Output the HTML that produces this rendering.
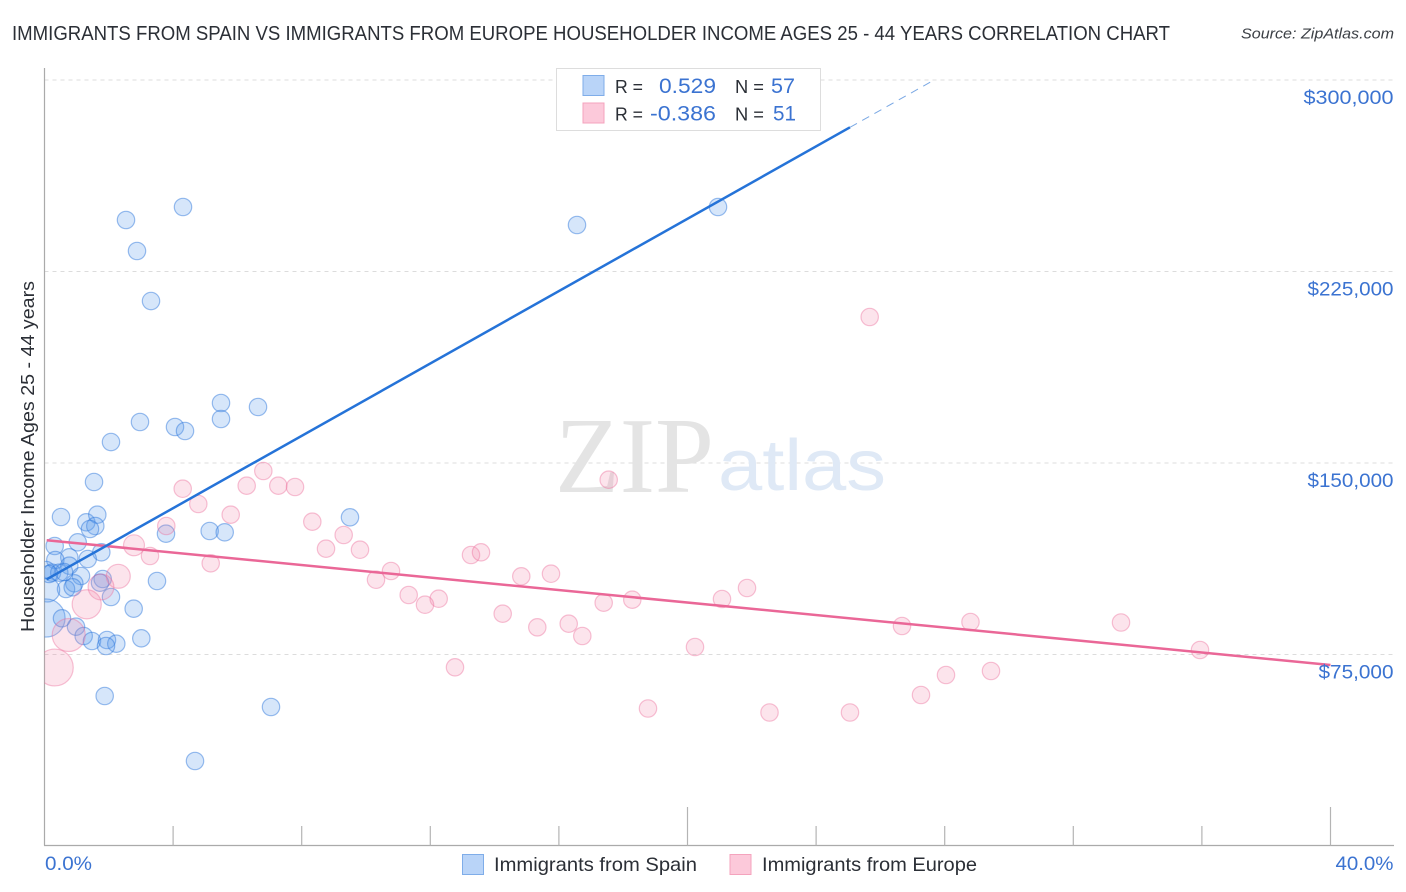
<!DOCTYPE html>
<html lang="en">
<head>
<meta charset="utf-8">
<title>Immigrants from Spain vs Immigrants from Europe Correlation Chart</title>
<style>
html,body{margin:0;padding:0;background:#fff;width:1406px;height:892px;overflow:hidden}
svg{display:block}
text{font-family:"Liberation Sans",Arial,sans-serif}
</style>
</head>
<body>
<svg id="chart" xmlns="http://www.w3.org/2000/svg" width="1406" height="892" viewBox="0 0 1406 892">
  <defs>
    <clipPath id="plot-clip"><rect x="44.5" y="60" width="1350" height="785"/></clipPath>
  </defs>
  <rect x="0" y="0" width="1406" height="892" fill="#ffffff"/>
  <text x="12" y="40" font-size="20" fill="#2b2f36" textLength="1158" lengthAdjust="spacingAndGlyphs">IMMIGRANTS FROM SPAIN VS IMMIGRANTS FROM EUROPE HOUSEHOLDER INCOME AGES 25 - 44 YEARS CORRELATION CHART</text>
  <text x="1394" y="38.5" font-size="15" font-style="italic" fill="#3c4046" text-anchor="end" textLength="153" lengthAdjust="spacingAndGlyphs">Source: ZipAtlas.com</text>

  <g id="grid"></g>

  <g>
    <text x="555" y="492" style="font-family:'Liberation Serif',serif" font-size="108" fill="#e4e4e4" textLength="159" lengthAdjust="spacingAndGlyphs">ZIP</text>
    <text x="718" y="490" font-size="72" fill="#dfe9f6" textLength="168" lengthAdjust="spacingAndGlyphs">atlas</text>
  </g>

  <g id="axes"></g>
  <g id="bubbles" clip-path="url(#plot-clip)"></g>
  <g id="trends"></g>
  <g id="ylabels"></g>
  <g id="xlabels"></g>

  <text transform="translate(34 456.5) rotate(-90)" font-size="18" fill="#2b2f36" text-anchor="middle" textLength="351" lengthAdjust="spacingAndGlyphs">Householder Income Ages 25 - 44 years</text>

  <g>
    <rect x="556.5" y="68.5" width="264" height="62" fill="#ffffff" stroke="#dddddd" stroke-width="1"/>
    <rect x="583" y="75.5" width="21" height="20" fill="#b9d4f8" stroke="#7fade9" stroke-width="1"/>
    <rect x="583" y="103" width="21" height="20" fill="#fcc9da" stroke="#f4a3bd" stroke-width="1"/>
    <text x="615" y="93" font-size="18.5" fill="#2b2f36" textLength="28" lengthAdjust="spacingAndGlyphs">R =</text>
    <text x="716" y="93" font-size="21" fill="#3b73d1" text-anchor="end" textLength="57" lengthAdjust="spacingAndGlyphs">0.529</text>
    <text x="735" y="93" font-size="18.5" fill="#2b2f36" textLength="29" lengthAdjust="spacingAndGlyphs">N =</text>
    <text x="795" y="93" font-size="21" fill="#3b73d1" text-anchor="end" textLength="24" lengthAdjust="spacingAndGlyphs">57</text>
    <text x="615" y="120.5" font-size="18.5" fill="#2b2f36" textLength="28" lengthAdjust="spacingAndGlyphs">R =</text>
    <text x="716" y="120.5" font-size="21" fill="#3b73d1" text-anchor="end" textLength="66" lengthAdjust="spacingAndGlyphs">-0.386</text>
    <text x="735" y="120.5" font-size="18.5" fill="#2b2f36" textLength="29" lengthAdjust="spacingAndGlyphs">N =</text>
    <text x="796" y="120.5" font-size="21" fill="#3b73d1" text-anchor="end" textLength="23" lengthAdjust="spacingAndGlyphs">51</text>
  </g>

  <g>
    <g>
      <rect x="462.5" y="854.5" width="21" height="20" fill="#b9d4f8" stroke="#7fade9" stroke-width="1"/>
      <text x="494" y="871" font-size="19.5" fill="#2b2f36" textLength="203" lengthAdjust="spacingAndGlyphs">Immigrants from Spain</text>
    </g>
    <g>
      <rect x="730" y="854.5" width="21" height="20" fill="#fcc9da" stroke="#f4a3bd" stroke-width="1"/>
      <text x="762" y="871" font-size="19.5" fill="#2b2f36" textLength="215" lengthAdjust="spacingAndGlyphs">Immigrants from Europe</text>
    </g>
  </g>
</svg>
<script>
// Chart data
const yTickValues = [75, 150, 225, 300];
const yTickLabels = ['$75,000', '$150,000', '$225,000', '$300,000'];
const xTickValues = [0, 4, 8, 12, 16, 20, 24, 28, 32, 36, 40];
const xAxisLabels = ['0.0%', '40.0%'];
const xAxisLabelValues = [0, 40];

const spainX = [2.535,4.308,2.877,3.313,16.563,20.949,5.490,5.490,6.641,2.970,4.059,4.370,2.068,1.540,9.502,0.513,1.300,1.642,1.580,1.415,3.779,5.138,5.605,1.033,0.317,1.767,0.771,1.344,0.336,0.771,0.047,0.233,0.460,1.135,1.810,1.726,0.927,0.669,0.877,3.499,2.068,0.100,0.047,2.774,0.544,0.980,1.219,1.477,1.944,2.233,1.913,3.011,1.872,7.045,4.681,0.607,0.140];
const spainIncome = [245.17,250.26,233.03,213.44,243.21,250.26,173.50,167.23,171.93,166.06,164.10,162.53,158.22,142.56,128.73,128.85,126.77,129.75,125.33,124.15,122.31,123.37,122.86,118.94,117.49,115.03,113.07,112.40,112.01,109.78,108.09,107.04,107.04,105.74,104.57,103.12,102.88,100.65,101.32,103.79,97.52,100.26,89.29,92.94,89.18,85.89,82.25,80.29,80.68,79.23,78.33,81.34,58.75,54.44,33.29,107.31,106.53];
const spainWeight = [1,1,1,1,1,1,1,1,1,1,1,1,1,1,1,1,1,1,1,1,1,1,1,1,1,1,1,1,1,1,1,1,1,1,1,1,1,1,1,1,1,1.9,4.8,1,1,1,1,1,1,1,1,1,1,1,1,1,1];

const europeX = [4.299,4.784,3.788,5.792,6.289,6.806,7.272,7.792,8.330,9.306,8.756,9.813,2.784,3.281,5.170,2.295,10.311,10.778,1.757,0.320,0.753,1.313,17.549,13.266,13.577,14.830,15.754,11.328,12.261,11.835,14.252,15.328,16.305,16.728,17.393,18.283,12.768,25.667,20.233,18.771,21.073,21.851,22.551,25.054,26.672,27.263,28.040,28.802,29.440,33.484,35.941];
const europeIncome = [139.93,133.94,125.33,129.75,141.11,146.87,141.11,140.60,127.01,121.80,116.44,116.04,117.77,113.58,110.72,105.63,104.29,107.70,101.44,69.91,82.64,94.66,143.46,113.97,115.03,105.63,106.64,98.30,96.85,94.50,90.98,85.65,87.06,82.25,95.29,96.46,69.99,207.18,77.94,53.85,96.74,101.04,52.28,52.28,86.16,59.14,66.97,87.73,68.54,87.53,76.76];
const europeWeight = [1,1,1,1,1,1,1,1,1,1,1,1,1.45,1,1,1.9,1,1,2.2,4.5,3.6,2.8,1,1,1,1,1,1,1,1,1,1,1,1,1,1,1,1,1,1,1,1,1,1,1,1,1,1,1,1,1];

const spainTrendX = [0.068, 25.054];
const spainTrendY = [104.45, 281.47];
const spainForecastX = [25.054, 27.698];
const spainForecastY = [281.47, 300.19];
const europeTrendX = [0.068, 40];
const europeTrendY = [119.73, 70.89];

// Axis functions
function xScale(v) { return 44.5 + v * 32.15; }
function yScale(v) { return 654.5 - (v - 75) * 2.5533; }
function rScale(w) { return 8.7 * Math.sqrt(w); }

const NS = 'http://www.w3.org/2000/svg';
function make(tag, parent, props) {
  const el = document.createElementNS(NS, tag);
  for (const k in props) el.setAttribute(k, props[k]);
  parent.appendChild(el);
  return el;
}

const grid = document.getElementById('grid');
const axes = document.getElementById('axes');
const bubbles = document.getElementById('bubbles');
const trends = document.getElementById('trends');
const ylabels = document.getElementById('ylabels');
const xlabels = document.getElementById('xlabels');

yTickValues.forEach(function (v, i) {
  const y = yScale(v);
  const line = make('line', grid, { x1: 44.5, x2: 1394, y1: y, y2: y, stroke: '#dcdcdc', 'stroke-width': 1, 'stroke-dasharray': '4 4' });
  
  
  const label = make('text', ylabels, { x: 1393.5, y: y + 23.8, 'font-size': 19, fill: '#3b73d1', 'text-anchor': 'end', textLength: yTickLabels[i].length === 7 ? 75 : (v === 300 ? 90 : 86), lengthAdjust: 'spacingAndGlyphs' });
  label.textContent = yTickLabels[i];
  
  
});

const yAxis = make('line', axes, { x1: 44.5, x2: 44.5, y1: 68, y2: 845.5, stroke: '#aaaaaa', 'stroke-width': 1.2 });


const xAxis = make('line', axes, { x1: 44, x2: 1394, y1: 845.5, y2: 845.5, stroke: '#aaaaaa', 'stroke-width': 1.2 });



xTickValues.forEach(function (v) {
  if (v === 0) return;
  const x = xScale(v);
  const tick = make('line', axes, { x1: x, x2: x, y1: v % 20 === 0 ? 807 : 826, y2: 845.5, stroke: '#b4b4b4', 'stroke-width': 1.2 });
  
  
});

xAxisLabels.forEach(function (t, i) {
  const first = i === 0;
  const label = make('text', xlabels, { x: first ? xScale(xAxisLabelValues[i]) + 0.5 : xScale(xAxisLabelValues[i]) + 63, y: 870, 'font-size': 19, fill: '#3b73d1', 'text-anchor': first ? 'start' : 'end', textLength: first ? 47 : 58, lengthAdjust: 'spacingAndGlyphs' });
  label.textContent = t;
  
  
});

spainX.forEach(function (x, i) {
  const c = make('circle', bubbles, { cx: xScale(x), cy: yScale(spainIncome[i]), r: rScale(spainWeight[i]), fill: 'rgba(90,155,235,0.25)', stroke: 'rgba(45,120,220,0.48)', 'stroke-width': 1.2 });
  
  
});

europeX.forEach(function (x, i) {
  const c = make('circle', bubbles, { cx: xScale(x), cy: yScale(europeIncome[i]), r: rScale(europeWeight[i]), fill: 'rgba(243,130,170,0.22)', stroke: 'rgba(236,110,155,0.42)', 'stroke-width': 1.2 });
  
  
});

const europeLine = make('line', trends, { x1: xScale(europeTrendX[0]), y1: yScale(europeTrendY[0]), x2: xScale(europeTrendX[1]), y2: yScale(europeTrendY[1]), stroke: '#ea6797', 'stroke-width': 2.5 });



const spainLine = make('line', trends, { x1: xScale(spainTrendX[0]), y1: yScale(spainTrendY[0]), x2: xScale(spainTrendX[1]), y2: yScale(spainTrendY[1]), stroke: '#2573d8', 'stroke-width': 2.5 });



const spainForecast = make('line', trends, { x1: xScale(spainForecastX[0]), y1: yScale(spainForecastY[0]), x2: xScale(spainForecastX[1]), y2: yScale(spainForecastY[1]), stroke: '#7aa8e4', 'stroke-width': 1, 'stroke-dasharray': '8 6' });


</script>
</body>
</html>
